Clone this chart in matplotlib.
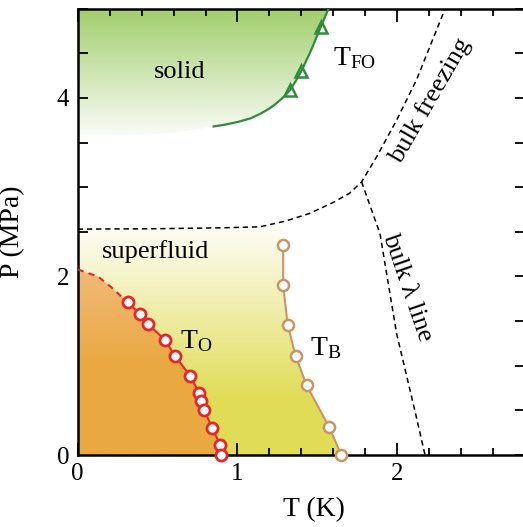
import matplotlib

matplotlib.use("Agg")
import matplotlib.pyplot as plt
import numpy as np
from matplotlib.patches import Polygon
from matplotlib.colors import to_rgb

# ---- data (T in K, P in MPa) ----
to_T = [0.313, 0.390, 0.438, 0.546, 0.609, 0.703, 0.761, 0.770, 0.793, 0.842, 0.893, 0.897]
to_P = [1.71, 1.58, 1.47, 1.29, 1.11, 0.89, 0.69, 0.60, 0.50, 0.30, 0.11, 0.0]
to_ext_T = [0.0, 0.044, 0.127, 0.21, 0.27, 0.313]      # dashed extrapolation
to_ext_P = [2.08, 2.05, 2.0, 1.88, 1.78, 1.71]

tb_T = [1.286, 1.286, 1.314, 1.364, 1.433, 1.575, 1.650]
tb_P = [2.35, 1.90, 1.46, 1.11, 0.78, 0.31, 0.0]

tfo_T = [1.33, 1.40, 1.52]
tfo_P = [4.09, 4.30, 4.79]
tfo_line_T = [0.85, 0.92, 1.00, 1.08, 1.14, 1.19, 1.23, 1.27, 1.30, 1.33, 1.365, 1.40, 1.46, 1.52, 1.57]
tfo_line_P = [3.68, 3.70, 3.73, 3.77, 3.82, 3.87, 3.92, 3.98, 4.03, 4.09, 4.19, 4.30, 4.53, 4.79, 5.0]
solid_edge_T = [0.0, 0.3, 0.6, 0.85]
solid_edge_P = [3.565, 3.58, 3.61, 3.68]

sf_top_P = 2.53     # top of the superfluid shading
frz_T = [0.0, 0.5, 0.9, 1.14, 1.30, 1.45, 1.60, 1.70, 1.777, 1.871, 1.996, 2.12, 2.30]
frz_P = [2.53, 2.535, 2.545, 2.556, 2.62, 2.705, 2.83, 2.93, 3.06, 3.34, 3.75, 4.20, 5.0]
lam_T = [1.777, 1.892, 1.996, 2.11, 2.174]
lam_P = [3.06, 2.48, 1.36, 0.50, 0.0]

plt.rcParams["font.family"] = ["Liberation Serif", "DejaVu Serif"]
plt.rcParams["mathtext.fontset"] = "custom"
plt.rcParams["mathtext.rm"] = "Liberation Serif"
plt.rcParams["mathtext.it"] = "Liberation Serif:italic"

fig = plt.figure(figsize=(5.23, 5.27), dpi=100)
ax = fig.add_axes([0.1486, 0.1366, 0.8553, 0.847])
XMAX, YMAX = 2.8, 5.0


def grad_fill(verts, p0, c0, p1, c1, z):
    """vertical colour gradient (c0 at P<=p0 -> c1 at P>=p1) clipped to a polygon"""
    yy = np.linspace(0, YMAX, 400)
    f = np.clip((yy - p0) / (p1 - p0), 0, 1)[:, None]
    img = (1 - f) * np.array(to_rgb(c0)) + f * np.array(to_rgb(c1))
    img = np.repeat(img[:, None, :], 2, axis=1)
    poly = Polygon(verts, closed=True, facecolor="none", edgecolor="none")
    ax.add_patch(poly)
    im = ax.imshow(img, origin="lower", extent=[0, XMAX, 0, YMAX], aspect="auto",
                   interpolation="bilinear", zorder=z)
    im.set_clip_path(poly)


# superfluid (yellow)
sf = [(0, 0), (0, sf_top_P), (tb_T[0] - 0.005, sf_top_P)] + list(zip(tb_T, tb_P))
grad_fill(sf, 0.6, "#e0dc55", 2.65, "#ffffff", 1)
# orange region under T_O
ora = [(0, 0)] + list(zip(to_ext_T, to_ext_P)) + list(zip(to_T[1:], to_P[1:]))
grad_fill(ora, 1.0, "#e9a940", 2.2, "#f2bb80", 2)
# solid (green)
sol = [(0, YMAX)] + list(zip(solid_edge_T, solid_edge_P)) + list(zip(tfo_line_T[1:], tfo_line_P[1:]))
grad_fill(sol, YMAX, "#a1ce6b", 3.5, "#ffffff", 1)

# bulk lines
ax.plot(frz_T, frz_P, ls=(0, (3.5, 2.5)), color="k", lw=1.1, zorder=3)
ax.plot(lam_T, lam_P, ls=(0, (3.5, 2.5)), color="k", lw=1.1, zorder=3)

# T_O
ax.plot(to_ext_T, to_ext_P, ls=(0, (3, 2.5)), color="#e8262a", lw=1.5, zorder=4)
ax.plot(to_T, to_P, "-o", color="#e8262a", lw=1.5, ms=8, mfc="white", mec="#e8262a", mew=2.0,
        zorder=5, clip_on=False)
# T_B
ax.plot(tb_T, tb_P, "-o", color="#c99468", lw=1.5, ms=8, mfc="white", mec="#c99468", mew=1.8,
        zorder=5, clip_on=False)
# T_FO
ax.plot(tfo_line_T, tfo_line_P, "-", color="#2f8c3c", lw=1.6, zorder=4)
ax.plot(tfo_T, tfo_P, "^", ms=8, mfc="none", mec="#2f8c3c", mew=1.8, zorder=5)

# labels in the diagram
ax.text(0.64, 4.29, "solid", fontsize=19, ha="center", va="center", zorder=6)
ax.text(0.49, 2.28, "superfluid", fontsize=19, ha="center", va="center", zorder=6)
ax.text(1.60, 4.45, r"$\mathrm{T}_{\mathrm{FO}}$", fontsize=20, ha="left", va="center", zorder=6)
ax.text(0.64, 1.28, r"$\mathrm{T}_{\mathrm{O}}$", fontsize=20, ha="left", va="center", zorder=6)
ax.text(1.455, 1.20, r"$\mathrm{T}_{\mathrm{B}}$", fontsize=20, ha="left", va="center", zorder=6)
ax.text(2.205, 3.97, "bulk freezing", fontsize=19, rotation=60, ha="center", va="center",
        rotation_mode="anchor", zorder=6)
ax.text(2.06, 1.88, "bulk λ line", fontsize=19, rotation=-71, ha="center", va="center",
        rotation_mode="anchor", zorder=6)

ax.set_xlim(0, XMAX)
ax.set_ylim(0, YMAX)
ax.set_xticks([0, 1, 2])
ax.set_xticks(np.arange(0, XMAX + 0.01, 0.2), minor=True)
ax.set_yticks(np.arange(0, YMAX + 0.01, 0.5))
ax.set_yticklabels(["0", "", "", "", "2", "", "", "", "4", "", ""])
ax.tick_params(which="both", direction="in", top=True, right=True, width=1.3, labelsize=18)
ax.tick_params(axis="x", which="major", length=9, pad=6)
ax.tick_params(axis="x", which="minor", length=5)
ax.tick_params(axis="y", which="major", length=7, pad=6)
for s in ax.spines.values():
    s.set_linewidth(1.8)
ax.set_xlabel("T (K)", fontsize=20)
ax.set_ylabel("P (MPa)", fontsize=20)
ax.xaxis.set_label_coords(0.529, -0.095)
ax.yaxis.set_label_coords(-0.118, 0.5)

fig.savefig("out.png", dpi=100)
